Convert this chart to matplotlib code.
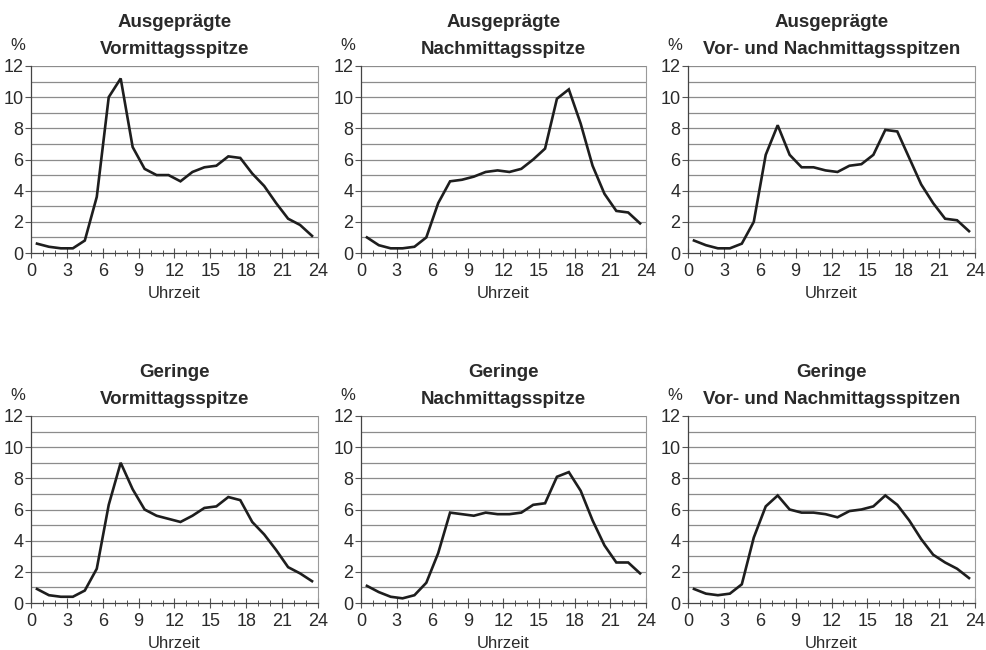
import matplotlib
matplotlib.use("Agg")
import matplotlib.pyplot as plt
from matplotlib import font_manager
from matplotlib.ticker import MultipleLocator

names = {f.name for f in font_manager.fontManager.ttflist}
FONT = "Liberation Sans Narrow" if "Liberation Sans Narrow" in names else "Liberation Sans"
plt.rcParams['font.family'] = [FONT, 'DejaVu Sans']

hours = [h + 0.5 for h in range(24)]

titles = [
    "Ausgeprägte\nVormittagsspitze",
    "Ausgeprägte\nNachmittagsspitze",
    "Ausgeprägte\nVor- und Nachmittagsspitzen",
    "Geringe\nVormittagsspitze",
    "Geringe\nNachmittagsspitze",
    "Geringe\nVor- und Nachmittagsspitzen",
]

ausg_vormittag = [0.6, 0.4, 0.3, 0.3, 0.8, 3.6, 10.0, 11.2, 6.8, 5.4, 5.0, 5.0,
                  4.6, 5.2, 5.5, 5.6, 6.2, 6.1, 5.1, 4.3, 3.2, 2.2, 1.8, 1.1]
ausg_nachmittag = [1.0, 0.5, 0.3, 0.3, 0.4, 1.0, 3.2, 4.6, 4.7, 4.9, 5.2, 5.3,
                   5.2, 5.4, 6.0, 6.7, 9.9, 10.5, 8.3, 5.6, 3.8, 2.7, 2.6, 1.9]
ausg_beide = [0.8, 0.5, 0.3, 0.3, 0.6, 2.0, 6.3, 8.2, 6.3, 5.5, 5.5, 5.3,
              5.2, 5.6, 5.7, 6.3, 7.9, 7.8, 6.1, 4.4, 3.2, 2.2, 2.1, 1.4]
ger_vormittag = [0.9, 0.5, 0.4, 0.4, 0.8, 2.2, 6.3, 9.0, 7.3, 6.0, 5.6, 5.4,
                 5.2, 5.6, 6.1, 6.2, 6.8, 6.6, 5.2, 4.4, 3.4, 2.3, 1.9, 1.4]
ger_nachmittag = [1.1, 0.7, 0.4, 0.3, 0.5, 1.3, 3.2, 5.8, 5.7, 5.6, 5.8, 5.7,
                  5.7, 5.8, 6.3, 6.4, 8.1, 8.4, 7.2, 5.3, 3.7, 2.6, 2.6, 1.9]
ger_beide = [0.9, 0.6, 0.5, 0.6, 1.2, 4.2, 6.2, 6.9, 6.0, 5.8, 5.8, 5.7,
             5.5, 5.9, 6.0, 6.2, 6.9, 6.3, 5.3, 4.1, 3.1, 2.6, 2.2, 1.6]

series = [ausg_vormittag, ausg_nachmittag, ausg_beide,
          ger_vormittag, ger_nachmittag, ger_beide]

xticks = [0, 3, 6, 9, 12, 15, 18, 21, 24]
yticks = [0, 2, 4, 6, 8, 10, 12]

fig = plt.figure(figsize=(9.87, 6.5), dpi=100)
W, H = 987, 650
lefts = [31, 361, 688]
widths = [287, 285, 287]
tops = [66, 416]
ah = 187

for i, (title, vals) in enumerate(zip(titles, series)):
    r, c = divmod(i, 3)
    l = lefts[c]
    t = tops[r]
    ax = fig.add_axes([l / W, 1 - (t + ah) / H, widths[c] / W, ah / H])
    ax.set_xlim(0, 24)
    ax.set_ylim(0, 12)
    # gridlines every 1 %
    for yv in range(1, 13):
        ax.axhline(yv, color="#8c8c8c", lw=0.9, zorder=1)
    ax.plot(hours, vals, color="#1e1e1e", lw=1.9, zorder=3, solid_joinstyle="miter")
    ax.set_xticks(xticks)
    ax.set_yticks(yticks)
    ax.xaxis.set_minor_locator(MultipleLocator(1))
    ax.tick_params(axis="x", which="major", direction="inout", length=7,
                   width=0.8, color="#555555", labelsize=13, pad=4)
    ax.tick_params(axis="x", which="minor", direction="inout", length=5,
                   width=0.7, color="#555555")
    ax.tick_params(axis="y", which="major", direction="out", length=4,
                   width=0.8, color="#555555", labelsize=13, pad=1.5)
    for lab in ax.get_xticklabels() + ax.get_yticklabels():
        lab.set_color("#2a2a2a")
    ax.spines["left"].set_color("#444444")
    ax.spines["bottom"].set_color("#444444")
    ax.spines["left"].set_linewidth(0.9)
    ax.spines["bottom"].set_linewidth(0.9)
    ax.spines["right"].set_color("#9a9a9a")
    ax.spines["right"].set_linewidth(0.8)
    ax.spines["top"].set_visible(False)
    ax.set_xlabel("Uhrzeit", fontsize=12, color="#2a2a2a", labelpad=4)
    ax.set_title(title, fontsize=13.5, fontweight="bold", color="#2a2a2a",
                 linespacing=1.75, pad=9)
    ax.text(-0.045, 1.07, "%", transform=ax.transAxes, fontsize=12,
            color="#2a2a2a", ha="center", va="bottom")

fig.savefig("out.png", dpi=100, facecolor="white")
